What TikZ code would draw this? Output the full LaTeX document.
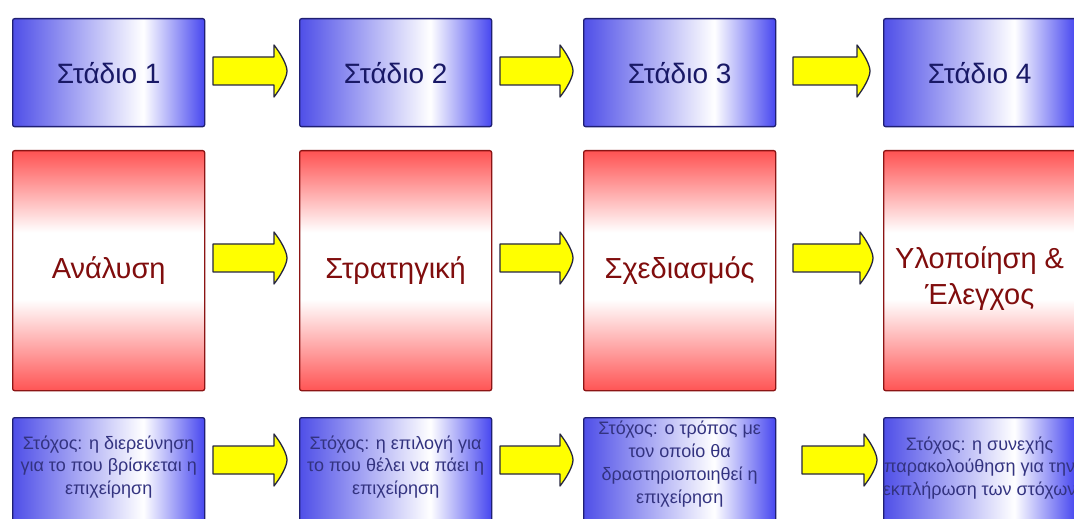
\documentclass[tikz,border=0pt]{standalone}
\usepackage{fontspec}
\setmainfont{Liberation Sans}
\usetikzlibrary{calc}

\definecolor{stageline}{rgb}{0.12,0.12,0.45}
\definecolor{stagetext}{rgb}{0.10,0.10,0.40}
\definecolor{phaseline}{rgb}{0.55,0.08,0.08}
\definecolor{phasetext}{rgb}{0.50,0.05,0.05}
\definecolor{goaltext}{rgb}{0.20,0.20,0.50}
\definecolor{arrowfill}{rgb}{1,1,0}
\definecolor{arrowline}{rgb}{0.15,0.15,0.25}

% blue boxes: blue at both sides, white towards the right of the middle
\pgfdeclarehorizontalshading{stagefade}{100bp}{rgb(0bp)=(0.31,0.31,0.91); rgb(25bp)=(0.31,0.31,0.91); rgb(59bp)=(1,1,1); rgb(75bp)=(0.28,0.28,0.94); rgb(100bp)=(0.28,0.28,0.94)}
% red boxes: red at top and bottom, white band in the middle
\pgfdeclareverticalshading{phasefade}{100bp}{rgb(0bp)=(1,0.33,0.33); rgb(25bp)=(1,0.33,0.33); rgb(44bp)=(1,1,1); rgb(58bp)=(1,1,1); rgb(75bp)=(1,0.32,0.32); rgb(100bp)=(1,0.32,0.32)}

\tikzset{
  stagebox/.style={draw=stageline, line width=1.3bp, shade, shading=stagefade,
    rounded corners=2bp, anchor=north west, inner sep=0pt, minimum width=192bp,
    minimum height=108bp, text=stagetext, font=\fontsize{28bp}{32bp}\selectfont},
  phasebox/.style={draw=phaseline, line width=1.3bp, shade, shading=phasefade,
    rounded corners=2bp, anchor=north west, inner sep=0pt, minimum width=192bp,
    minimum height=240bp, text=phasetext, align=center,
    font=\fontsize{29bp}{36bp}\selectfont},
  phasetxt/.style={text=phasetext, align=center, inner sep=0pt,
    font=\fontsize{29bp}{36bp}\selectfont},
  goalbox/.style={draw=stageline, line width=1.3bp, shade, shading=stagefade,
    rounded corners=2bp, anchor=north west, inner sep=0pt, minimum width=192bp,
    minimum height=110bp},
  goaltxt/.style={text=goaltext, align=center, inner sep=0pt,
    font=\fontsize{18bp}{22.5bp}\selectfont},
  fatarrow/.style={draw=arrowline, fill=arrowfill, line width=1.3bp, line join=round,
    to path={($(\tikztostart)+(0,-14)$) -- ($(\tikztotarget)+(-13,-14)$)
      -- ($(\tikztotarget)+(-13,-26)$)
      .. controls ($(\tikztotarget)+(-6,-17)$) and ($(\tikztotarget)+(0,-6)$) .. (\tikztotarget)
      .. controls ($(\tikztotarget)+(0,6)$) and ($(\tikztotarget)+(-6,17)$) .. ($(\tikztotarget)+(-13,26)$)
      -- ($(\tikztotarget)+(-13,14)$) -- ($(\tikztostart)+(0,14)$) -- cycle}}
}

\begin{document}
\begin{tikzpicture}[x=1bp,y=-1bp]
\path[use as bounding box, fill=white] (0,0) rectangle (1074,519);
\clip (0,0) rectangle (1074,519);

% row 1: stages
\node[stagebox] (s1) at (12,18)  {Στάδιο 1};
\node[stagebox] (s2) at (299,18) {Στάδιο 2};
\node[stagebox] (s3) at (583,18) {Στάδιο 3};
\node[stagebox] (s4) at (883,18) {Στάδιο 4};

% row 2: phases
\node[phasebox] (p1) at (12,150)  {Ανάλυση};
\node[phasebox] (p2) at (299,150) {Στρατηγική};
\node[phasebox] (p3) at (583,150) {Σχεδιασμός};
\node[phasebox] (p4) at (883,150) {};
\node[phasetxt] (p4t) at ($(p4.center)+(0,8)$) {Υλοποίηση \&\\Έλεγχος};

% row 3: goals
\node[goalbox] (g1) at (12,417)  {};
\node[goalbox] (g2) at (299,417) {};
\node[goalbox] (g3) at (583,417) {};
\node[goalbox] (g4) at (883,417) {};
\node[goaltxt] (g1t) at ($(g1.north)+(0,50)$) {Στόχος: η διερεύνηση\\για το που βρίσκεται η\\επιχείρηση};
\node[goaltxt] (g2t) at ($(g2.north)+(0,50)$) {Στόχος: η επιλογή για\\το που θέλει να πάει η\\επιχείρηση};
\node[goaltxt, font=\fontsize{18bp}{23bp}\selectfont] (g3t) at ($(g3.north)+(0,47)$) {Στόχος: ο τρόπος με\\τον οποίο θα\\δραστηριοποιηθεί η\\επιχείρηση};
\node[goaltxt] (g4t) at ($(g4.north)+(0,51)$) {Στόχος: η συνεχής\\παρακολούθηση για την\\εκπλήρωση των στόχων};

% arrow end points
\coordinate (a1s) at (213,71);  \coordinate (a1e) at (287,71);
\coordinate (a2s) at (500,71);  \coordinate (a2e) at (573,71);
\coordinate (a3s) at (793,71);  \coordinate (a3e) at (870,71);
\coordinate (b1s) at (213,258); \coordinate (b1e) at (287,258);
\coordinate (b2s) at (500,258); \coordinate (b2e) at (573,258);
\coordinate (b3s) at (793,258); \coordinate (b3e) at (873,258);
\coordinate (c1s) at (213,460); \coordinate (c1e) at (287,460);
\coordinate (c2s) at (500,460); \coordinate (c2e) at (573,460);
\coordinate (c3s) at (802,460); \coordinate (c3e) at (877,460);

\draw[fatarrow] (a1s) to (a1e);
\draw[fatarrow] (a2s) to (a2e);
\draw[fatarrow] (a3s) to (a3e);
\draw[fatarrow] (b1s) to (b1e);
\draw[fatarrow] (b2s) to (b2e);
\draw[fatarrow] (b3s) to (b3e);
\draw[fatarrow] (c1s) to (c1e);
\draw[fatarrow] (c2s) to (c2e);
\draw[fatarrow] (c3s) to (c3e);
\end{tikzpicture}
\end{document}
